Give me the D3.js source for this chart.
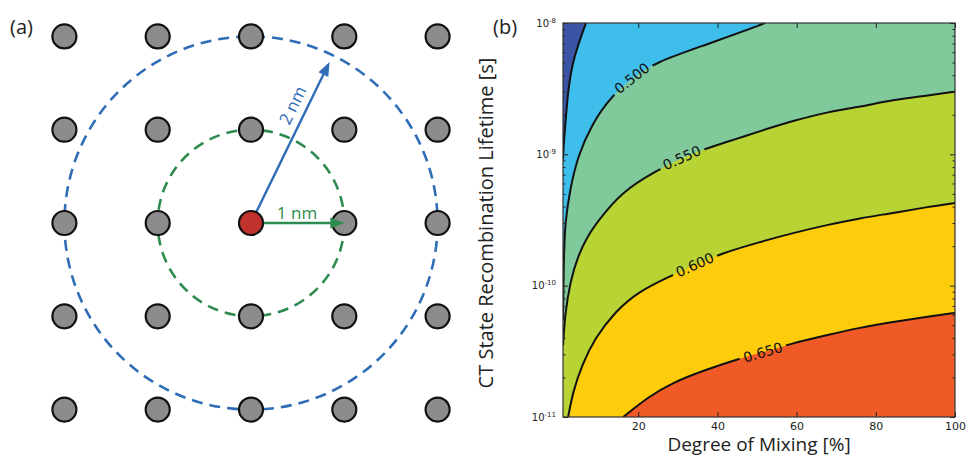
<!DOCTYPE html>
<html>
<head>
<meta charset="utf-8">
<script src="https://cdn.jsdelivr.net/npm/d3@7"></script>
<style>
  body { margin: 0; background: #fff; }
  svg { display: block; }
  .tick text { font-family: "DejaVu Sans", sans-serif; fill: #222; }
  .lbl { font-family: "Open Sans", sans-serif; fill: #222; }
</style>
</head>
<body>
<div id="chart"></div>
<script>
// ---- panel (a): lattice geometry, in nm ----
const latticeNm = [-2, -1, 0, 1, 2];
const shellRadiiNm = [1, 2];
const shellColors = ["#2e8b4f", "#2f6db6"];
const arrowLengthNm = [1, 1.92];
const arrowAngleDeg = [0, 64];
const arrowTexts = ["1 nm", "2 nm"];

// ---- panel (b): contour lines, [mixing %, lifetime s] ----
const levels = [0.45, 0.50, 0.55, 0.60, 0.65];
const levelColors = ["#3fbdeb", "#7fc99b", "#b8d334", "#fdcc0a", "#f05a26"];
const belowColor = "#3a55a4";
const contour045 = [[6.8, 1e-8], [4.8, 6.8e-9], [3.3, 4.8e-9], [2.3, 3.1e-9], [1.8, 2.0e-9], [1.25, 1.3e-9], [1, 9.1e-10]];
const contour050 = [[52, 1e-8], [49.5, 9.3e-9], [36.9, 6.8e-9], [24.2, 5.0e-9], [18.4, 3.8e-9], [12.9, 2.7e-9], [8.3, 1.7e-9],
  [4.8, 9.8e-10], [2.8, 5.5e-10], [1.5, 3.0e-10], [1.2, 1.6e-10], [1, 5.5e-11]];
const contour055 = [[100, 3.0e-9], [92.9, 2.8e-9], [84.3, 2.6e-9], [76, 2.3e-9], [67.7, 2.1e-9], [59.1, 1.8e-9], [50.7, 1.5e-9],
  [44.4, 1.3e-9], [36.9, 1.1e-9], [31, 9.4e-10], [24.2, 7.4e-10], [15.9, 5.2e-10], [9.8, 3.1e-10], [7.3, 2.4e-10],
  [4.8, 1.7e-10], [2.8, 1.07e-10], [1.5, 6.0e-11], [1, 3.5e-11]];
const contour060 = [[100, 4.26e-10], [92.9, 3.97e-10], [84.3, 3.57e-10], [76, 3.27e-10], [67.7, 2.9e-10], [59.1, 2.52e-10],
  [50.7, 2.15e-10], [41.2, 1.77e-10], [34.3, 1.44e-10], [27.5, 1.16e-10], [19.9, 8.95e-11], [14.1, 6.3e-11],
  [9.1, 4.0e-11], [5.8, 2.5e-11], [3.5, 1.55e-11], [2.3, 1e-11]];
const contour065 = [[100, 6.2e-11], [92.9, 5.8e-11], [84.3, 5.3e-11], [76, 4.8e-11], [67.7, 4.2e-11], [58.3, 3.6e-11],
  [51.5, 3.1e-11], [45.2, 2.77e-11], [36.9, 2.28e-11], [28.5, 1.82e-11], [22.5, 1.42e-11], [16.2, 1e-11]];
const contours = [contour045, contour050, contour055, contour060, contour065];
// index of the point each inline label sits on (-1 = no label)
const labelIndex = [-1, 4, 9, 8, 6];
const labelTexts = ["", "0.500", "0.550", "0.600", "0.650"];

const xDomain = [1, 100];
const yDomain = [1e-11, 1e-8];
const xTicks = [20, 40, 60, 80, 100];
const yTicks = [1e-11, 1e-10, 1e-9, 1e-8];
const yTickExp = ["-11", "-10", "-9", "-8"];

const W = 966, H = 457;
const svg = d3.select("#chart").append("svg").attr("width", W).attr("height", H);

// =================== panel (a) ===================
const cx = 251, cy = 223, unit = 93.3;
const ax = d3.scaleLinear().domain([-1, 1]).range([cx - unit, cx + unit]);
const ay = d3.scaleLinear().domain([-1, 1]).range([cy + unit, cy - unit]);
const pa = svg.append("g");

pa.append("text").attr("class", "lbl").attr("x", 10).attr("y", 34)
  .style("font-size", "20px").text("(a)");

// dashed shells
pa.selectAll(".shell").data(shellRadiiNm).enter().append("circle")
  .attr("cx", ax(0)).attr("cy", ay(0))
  .attr("r", d => ax(d) - ax(0))
  .attr("fill", "none")
  .attr("stroke", (d, i) => shellColors[i])
  .attr("stroke-width", 2.6)
  .attr("stroke-dasharray", "11 7");

// lattice sites
const sites = [];
latticeNm.forEach(j => latticeNm.forEach(i => sites.push([i, j])));
pa.selectAll(".site").data(sites.filter(d => d[0] !== 0 || d[1] !== 0)).enter().append("circle")
  .attr("cx", d => ax(d[0])).attr("cy", d => ay(d[1])).attr("r", 12)
  .attr("fill", "#8c8c8c").attr("stroke", "#111").attr("stroke-width", 2.2);

// arrows
arrowLengthNm.forEach((len, i) => {
  const a = arrowAngleDeg[i] * Math.PI / 180;
  const tx = ax(len * Math.cos(a)), ty = ay(len * Math.sin(a));
  const ux = Math.cos(a), uy = -Math.sin(a);
  const hl = 14, hw = 5.5;
  const bx = tx - ux * hl, by = ty - uy * hl;
  pa.append("line").attr("x1", ax(0)).attr("y1", ay(0)).attr("x2", bx + ux * 2).attr("y2", by + uy * 2)
    .attr("stroke", shellColors[i]).attr("stroke-width", 2.4);
  pa.append("path")
    .attr("d", `M${tx},${ty}L${bx - uy * hw},${by + ux * hw}L${bx + uy * hw},${by - ux * hw}Z`)
    .attr("fill", shellColors[i]);
});
// arrow labels
pa.append("text").attr("class", "lbl").attr("x", 297).attr("y", 219)
  .attr("text-anchor", "middle").style("font-size", "17px")
  .style("fill", shellColors[0]).text(arrowTexts[0]);
pa.append("text").attr("class", "lbl")
  .attr("transform", "translate(298,108) rotate(-64)")
  .attr("text-anchor", "middle").style("font-size", "17px")
  .style("fill", shellColors[1]).text(arrowTexts[1]);

// center site
pa.append("circle").attr("cx", ax(0)).attr("cy", ay(0)).attr("r", 12)
  .attr("fill", "#c0322b").attr("stroke", "#111").attr("stroke-width", 2.2);

// =================== panel (b) ===================
const margin = {top: 23, right: 11, bottom: 40, left: 563};
const width = W - margin.left - margin.right,
      height = 417 - margin.top;

const pb = svg.append("g").attr("transform", "translate(" + margin.left + "," + margin.top + ")");

const x = d3.scaleLinear().domain(xDomain).range([0, width]);
const y = d3.scaleLog().domain(yDomain).range([height, 0]);

svg.append("text").attr("class", "lbl").attr("x", 493).attr("y", 34)
  .style("font-size", "20px").text("(b)");

const defs = svg.append("defs");
defs.append("clipPath").attr("id", "plotclip")
  .append("rect").attr("width", width).attr("height", height);

const body = pb.append("g").attr("clip-path", "url(#plotclip)");
// smooth through the hand-read points
const lineGen = d3.line().curve(d3.curveBasis);

function fillPath(pts) {
  let p = lineGen(pts.map(d => [x(d[0]), y(d[1])]));
  const first = pts[0], last = pts[pts.length - 1];
  const corners = [];
  if (last[0] <= xDomain[0]) corners.push([xDomain[0], yDomain[0]]);
  corners.push([xDomain[1], yDomain[0]]);
  if (first[1] >= yDomain[1]) corners.push([xDomain[1], yDomain[1]]);
  return p + corners.map(c => "L" + x(c[0]) + "," + y(c[1])).join("") + "Z";
}

// lowest band, then each filled level on top
body.append("rect").attr("width", width).attr("height", height).attr("fill", belowColor);
body.selectAll(".band").data(contours).enter().append("path")
  .attr("class", "band")
  .attr("d", d => fillPath(d))
  .attr("fill", (d, i) => levelColors[i]);

// mask so the lines break under the inline labels
const mask = defs.append("mask").attr("id", "labelmask").attr("maskUnits", "userSpaceOnUse")
  .attr("x", 0).attr("y", 0).attr("width", width).attr("height", height);
mask.append("rect").attr("width", width).attr("height", height).attr("fill", "#fff");

body.append("g").attr("mask", "url(#labelmask)")
  .selectAll(".cline").data(contours).enter().append("path")
  .attr("d", d => lineGen(d.map(p => [x(p[0]), y(p[1])])))
  .attr("fill", "none").attr("stroke", "#111").attr("stroke-width", 2);

contours.forEach((pts, i) => {
  const k = labelIndex[i];
  if (k < 0) return;
  const p0 = pts[k - 1], p1 = pts[k + 1];
  const ang = Math.atan2(y(p0[1]) - y(p1[1]), x(p0[0]) - x(p1[0])) * 180 / Math.PI;
  const lx = x(pts[k][0]), ly = y(pts[k][1]);
  const t = pb.append("text")
    .attr("transform", `translate(${lx},${ly}) rotate(${ang})`)
    .attr("text-anchor", "middle").attr("dy", "0.35em")
    .style("font-family", "DejaVu Sans, sans-serif").style("font-size", "14px").style("fill", "#111")
    .text(labelTexts[i]);
  const w = t.node().getComputedTextLength() + 8;
  mask.append("rect").attr("x", -w / 2).attr("y", -8).attr("width", w).attr("height", 16)
    .attr("transform", `translate(${lx},${ly}) rotate(${ang})`).attr("fill", "#000");
});

// axes, ticks inside as in matplotlib
const minorY = [];
for (let e = -11; e < -8; e++) for (let m = 2; m <= 9; m++) minorY.push(m * Math.pow(10, e));

pb.append("g").attr("transform", "translate(0," + height + ")")
  .call(d3.axisBottom(x).tickValues(xTicks).tickSizeInner(-5).tickSizeOuter(0).tickPadding(5).tickFormat(d3.format("d")))
  .call(g => g.select(".domain").remove())
  .call(g => g.selectAll("text").style("font-size", "11px"));
pb.append("g")
  .call(d3.axisTop(x).tickValues(xTicks).tickSizeInner(-5).tickSizeOuter(0).tickFormat(""))
  .call(g => g.select(".domain").remove());

const yAx = pb.append("g")
  .call(d3.axisLeft(y).tickValues(yTicks).tickSizeInner(-5).tickSizeOuter(0).tickPadding(7).tickFormat(""))
  .call(g => g.select(".domain").remove());
yAx.selectAll(".tick text").each(function(d, i) {
  const t = d3.select(this).style("font-size", "10px");
  t.append("tspan").text("10");
  t.append("tspan").attr("dy", "-0.6em").style("font-size", "7px").text(yTickExp[i]);
});
pb.append("g")
  .call(d3.axisLeft(y).tickValues(minorY).tickSizeInner(-2.5).tickSizeOuter(0).tickFormat(""))
  .call(g => g.select(".domain").remove());
pb.append("g").attr("transform", "translate(" + width + ",0)")
  .call(d3.axisRight(y).tickValues(yTicks).tickSizeInner(-5).tickSizeOuter(0).tickFormat(""))
  .call(g => g.select(".domain").remove());
pb.append("g").attr("transform", "translate(" + width + ",0)")
  .call(d3.axisRight(y).tickValues(minorY).tickSizeInner(-2.5).tickSizeOuter(0).tickFormat(""))
  .call(g => g.select(".domain").remove());
pb.selectAll(".tick line").attr("stroke", "#222");

pb.append("rect").attr("width", width).attr("height", height)
  .attr("fill", "none").attr("stroke", "#333").attr("stroke-width", 1.2);

// axis titles
svg.append("text").attr("class", "lbl")
  .attr("x", margin.left + width / 2).attr("y", 451)
  .attr("text-anchor", "middle").style("font-size", "19px")
  .text("Degree of Mixing [%]");
svg.append("text").attr("class", "lbl")
  .attr("transform", "translate(493," + (margin.top + height / 2 + 3) + ") rotate(-90)")
  .attr("text-anchor", "middle").style("font-size", "20px")
  .text("CT State Recombination Lifetime [s]");
</script>
</body>
</html>
